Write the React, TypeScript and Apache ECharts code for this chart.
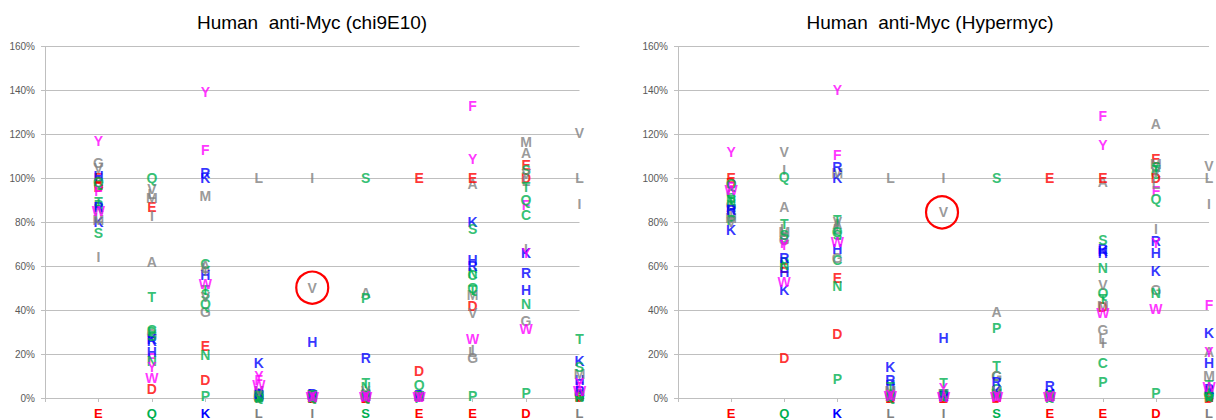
import React, { useEffect, useRef } from "react";
import * as echarts from "echarts";

// Wild-type residues along the epitope (x = 1..10)
const positions = ["E", "Q", "K", "L", "I", "S", "E", "E", "D", "L"];
const aminoAcids = ["A", "C", "D", "E", "F", "G", "H", "I", "K", "L", "M", "N", "P", "Q", "R", "S", "T", "V", "W", "Y"];
const yTicks = [0, 20, 40, 60, 80, 100, 120, 140, 160];

// Relative binding (%) of Human anti-Myc (chi9E10), one value per position
const chiA = [99, 62, 60, 1, 0.5, 48, 1, 97.5, 111.5, 2];
const chiC = [97, 31, 61, 2, 1, 1, 1, 56, 83.5, 1];
const chiD = [96, 4, 8, 0.5, 0, 0, 12.5, 42, 100, 0.5];
const chiE = [100, 87, 23.5, 1, 0, 0, 100, 100, 106, 1];
const chiF = [94, 18, 113, 8, 1, 1, 0.5, 133, 88, 5];
const chiG = [107, 29, 39, 0, 0.5, 1, 0.5, 18, 35, 2];
const chiH = [101, 21, 56, 3, 25.5, 2, 1, 63, 49, 8];
const chiI = [64, 83, 58, 2.5, 100, 1.5, 0.5, 22, 68, 88.5];
const chiK = [80, 27, 100, 16, 1, 1, 1, 80, 66, 17];
const chiL = [82, 93, 59, 100, 2, 2, 1, 21, 99, 100];
const chiM = [81, 91, 92, 1.5, 1.5, 1.5, 1, 47, 116.5, 11];
const chiN = [86, 17, 19.5, 0.5, 0.5, 5, 1, 57, 43, 1];
const chiP = [88, 30, 1, 0, 0, 45.5, 0, 1, 2.5, 0.5];
const chiQ = [98.5, 100, 43, 1, 1, 1, 6, 50, 90, 2];
const chiR = [87, 26, 102.5, 2, 2, 18, 1.5, 60, 57, 3];
const chiS = [75, 28, 47.5, 0.5, 0.5, 100, 1, 77, 104, 14];
const chiT = [89, 46, 49, 1, 1.5, 7, 1, 49, 96, 27];
const chiV = [104.5, 95, 46, 3, 50, 3, 1, 38.5, 102, 120.5];
const chiW = [85, 9, 52, 6, 0.5, 0.5, 0.5, 27, 31.5, 3];
const chiY = [117, 14, 139.5, 10, 1, 1, 0.5, 109, 66, 7];

// Relative binding (%) of Human anti-Myc (Hypermyc), one value per position
const hypA = [87, 87, 79, 1, 1, 39, 1, 98.5, 124.5, 21];
const hypC = [93, 73, 63, 0.5, 1, 10, 0.5, 16, 102, 1];
const hypD = [98, 18, 29, 0, 0, 0, 1, 41.5, 100, 0];
const hypE = [100, 59, 54.5, 0, 0, 0.5, 100, 100, 109, 0.5];
const hypF = [96, 70.5, 110.5, 1, 1, 1, 1, 128.5, 94, 42.5];
const hypG = [88, 72, 63.5, 1.5, 1.5, 10, 1, 31, 49, 2];
const hypH = [86, 57.5, 68, 6, 27.5, 2, 2, 66, 66, 16];
const hypI = [83, 104, 78.5, 2, 100, 2, 1, 25, 77, 88.5];
const hypK = [76.5, 49, 100, 14, 2, 3, 2, 67, 58, 29.5];
const hypL = [84, 77, 77, 100, 2, 1, 1, 27, 97.5, 100];
const hypM = [82, 75.5, 102.5, 3, 2, 2, 1, 42, 106.5, 10];
const hypN = [89, 60.5, 51, 1, 1, 2, 1, 59, 48, 3];
const hypP = [81, 62, 8.5, 0.5, 0.5, 32, 0, 7.5, 2.5, 0.5];
const hypQ = [97.5, 100.5, 75.5, 1, 2, 4, 1.5, 48, 90.5, 2];
const hypR = [85.5, 63.5, 105, 8, 1, 7.5, 5.5, 68, 71.5, 4];
const hypS = [91, 74, 74, 1, 1, 100, 1, 72, 105, 1];
const hypT = [90, 79, 81, 5, 7, 14.5, 1, 45, 104, 6];
const hypV = [80, 112, 80, 2, 84.5, 3, 1, 51.5, 103, 105.5];
const hypW = [94.5, 53, 71, 1, 0.5, 0.5, 0.5, 38.5, 40.5, 5];
const hypY = [112, 69.5, 140, 1.5, 4.5, 1, 1, 115, 70.5, 21];

const chiSeries = [chiA, chiC, chiD, chiE, chiF, chiG, chiH, chiI, chiK, chiL, chiM, chiN, chiP, chiQ, chiR, chiS, chiT, chiV, chiW, chiY];
const hypSeries = [hypA, hypC, hypD, hypE, hypF, hypG, hypH, hypI, hypK, hypL, hypM, hypN, hypP, hypQ, hypR, hypS, hypT, hypV, hypW, hypY];

const RED = "#FF0000";
const GREEN = "#00B050";
const BLUE = "#0000FF";
const MAGENTA = "#FF00FF";
const GRAY = "#808080";

// Residue class colouring
const residueColor: Record<string, string> = {
  D: RED, E: RED,
  K: BLUE, R: BLUE, H: BLUE,
  F: MAGENTA, Y: MAGENTA, W: MAGENTA,
  S: GREEN, T: GREEN, N: GREEN, Q: GREEN, C: GREEN, P: GREEN,
  A: GRAY, V: GRAY, L: GRAY, I: GRAY, M: GRAY, G: GRAY,
};
const richKey: Record<string, string> = { [RED]: "r", [GREEN]: "g", [BLUE]: "b", [MAGENTA]: "m", [GRAY]: "k" };

const FONT = "'Liberation Sans', Arial, sans-serif";
const GRID_COLOR = "#BFBFBF";
const LETTER_SIZE = 14;

const letterRich = {
  r: { color: RED, fontWeight: "bold", fontSize: 13, fontFamily: FONT },
  g: { color: GREEN, fontWeight: "bold", fontSize: 13, fontFamily: FONT },
  b: { color: BLUE, fontWeight: "bold", fontSize: 13, fontFamily: FONT },
  m: { color: MAGENTA, fontWeight: "bold", fontSize: 13, fontFamily: FONT },
  k: { color: GRAY, fontWeight: "bold", fontSize: 13, fontFamily: FONT },
};

function makeXAxis(gridIndex: number) {
  return {
    type: "value",
    gridIndex,
    min: 0,
    max: 10,
    interval: 1,
    splitLine: { show: false },
    axisLine: { show: true, lineStyle: { color: GRID_COLOR, width: 1 } },
    axisTick: { show: true, length: 4, lineStyle: { color: GRID_COLOR } },
    axisLabel: {
      margin: 9,
      showMinLabel: true,
      showMaxLabel: true,
      formatter: (v: number) => {
        const i = Math.round(v) - 1;
        if (i < 0 || i >= positions.length) return "";
        const aa = positions[i];
        return `{${richKey[residueColor[aa]]}|${aa}}`;
      },
      rich: letterRich,
    },
  };
}

function makeYAxis(gridIndex: number) {
  return {
    type: "value",
    gridIndex,
    min: yTicks[0],
    max: yTicks[yTicks.length - 1],
    interval: 20,
    axisLine: { show: true, lineStyle: { color: GRID_COLOR, width: 1 } },
    axisTick: { show: true, length: 4, lineStyle: { color: GRID_COLOR } },
    splitLine: { show: true, lineStyle: { color: GRID_COLOR, width: 1.2 } },
    axisLabel: {
      formatter: "{value}%",
      color: "#595959",
      fontSize: 10,
      fontFamily: FONT,
      margin: 10,
    },
  };
}

function makeSeries(panel: number, values: number[][]) {
  return aminoAcids.map((aa, k) => ({
    type: "scatter",
    name: `${panel}-${aa}`,
    xAxisIndex: panel,
    yAxisIndex: panel,
    silent: true,
    clip: false,
    symbol: "circle",
    symbolSize: 1,
    itemStyle: { color: "rgba(0,0,0,0)" },
    data: values[k].map((v, i) => [i + 1, v]),
    label: {
      show: true,
      position: "inside",
      formatter: aa,
      color: residueColor[aa],
      fontSize: LETTER_SIZE,
      fontWeight: "bold",
      fontFamily: FONT,
    },
  }));
}

export default function App() {
  const ref = useRef<HTMLDivElement>(null);

  useEffect(() => {
    if (!ref.current) return;
    const chart = echarts.init(ref.current, undefined, { renderer: "svg" });
    chart.setOption({
      animation: false,
      backgroundColor: "#FFFFFF",
      grid: [
        { left: 45, top: 46.5, width: 534.5, height: 352 },
        { left: 678, top: 46.5, width: 534, height: 352 },
      ],
      xAxis: [makeXAxis(0), makeXAxis(1)],
      yAxis: [makeYAxis(0), makeYAxis(1)],
      series: [...makeSeries(0, chiSeries), ...makeSeries(1, hypSeries)],
    });

    // Titles and highlight rings around the V substitution at position 5
    const vIdx = aminoAcids.indexOf("V");
    const left = chart.convertToPixel({ gridIndex: 0 }, [5, chiSeries[vIdx][4]]) as number[];
    const right = chart.convertToPixel({ gridIndex: 1 }, [5, hypSeries[vIdx][4]]) as number[];
    chart.setOption({
      graphic: [
        {
          type: "text",
          x: 312,
          y: 22,
          style: {
            text: "Human  anti-Myc (chi9E10)",
            font: `19px ${FONT}`,
            fill: "#000000",
            textAlign: "center",
            textVerticalAlign: "middle",
          },
        },
        {
          type: "text",
          x: 930,
          y: 22,
          style: {
            text: "Human  anti-Myc (Hypermyc)",
            font: `19px ${FONT}`,
            fill: "#000000",
            textAlign: "center",
            textVerticalAlign: "middle",
          },
        },
        {
          type: "circle",
          shape: { cx: left[0], cy: left[1] - 0.5, r: 16 },
          style: { fill: "none", stroke: "#FF0000", lineWidth: 2.2 },
          z: 100,
        },
        {
          type: "circle",
          shape: { cx: right[0] - 1.5, cy: right[1], r: 16 },
          style: { fill: "none", stroke: "#FF0000", lineWidth: 2.2 },
          z: 100,
        },
      ],
    });

    return () => chart.dispose();
  }, []);

  return (
    <div
      ref={ref}
      style={{ position: "fixed", left: 0, top: 0, width: 1216, height: 420, background: "#fff" }}
    />
  );
}
